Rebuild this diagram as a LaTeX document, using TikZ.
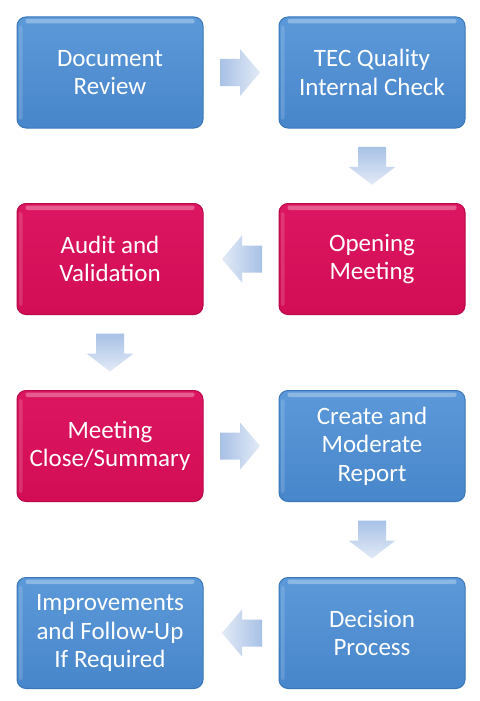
\documentclass[tikz,border=0pt]{standalone}
\usepackage{fontspec}
\setmainfont{Carlito}
\usetikzlibrary{calc}
\definecolor{bluetop}{HTML}{5B99D9}
\definecolor{bluebot}{HTML}{4886CB}
\definecolor{blueedge}{HTML}{3A76B8}
\definecolor{pinktop}{HTML}{DC1660}
\definecolor{pinkbot}{HTML}{D20C55}
\definecolor{pinkedge}{HTML}{B8084A}
\definecolor{arrdark}{HTML}{A8C1E6}
\definecolor{arrlight}{HTML}{E2EAF6}
\tikzset{
  pics/rarrow/.style={code={\shade[left color=arrdark, right color=arrlight]
    (-20,-13.5) -- (0,-13.5) -- (0,-23.5) -- (20,0) -- (0,23.5) -- (0,13.5) -- (-20,13.5) -- cycle;}},
  pics/larrow/.style={code={\shade[left color=arrlight, right color=arrdark]
    (20,-13.5) -- (0,-13.5) -- (0,-23.5) -- (-20,0) -- (0,23.5) -- (0,13.5) -- (20,13.5) -- cycle;}},
  pics/darrow/.style={code={\shade[top color=arrdark, bottom color=arrlight]
    (-14,-19) -- (14,-19) -- (14,1) -- (23.5,1) -- (0,19) -- (-23.5,1) -- (-14,1) -- cycle;}}
}
\begin{document}
\begin{tikzpicture}[x=1pt,y=-1pt,
  box/.style={rounded corners=9pt, minimum width=186pt, minimum height=111pt,
    align=center, text=white, inner sep=0pt,
    font=\fontsize{25}{28.5}\selectfont, line width=1pt},
  bluebox/.style={box, draw=blueedge, top color=bluetop, bottom color=bluebot},
  pinkbox/.style={box, draw=pinkedge, top color=pinktop, bottom color=pinkbot},
  shine/.style={white, opacity=0.3, rounded corners=2pt}]
\useasboundingbox (0,0) rectangle (479,701);
\fill[white] (0,0) rectangle (479,701);

\node[bluebox] (doc) at (110,72.5) {Document\\Review};
\node[bluebox] (tec) at (372,72.5) {TEC Quality\\Internal Check};
\node[pinkbox] (aud) at (110,259) {Audit and\\Validation};
\node[pinkbox] (opn) at (372,259) {Opening\\Meeting};
\node[pinkbox] (cls) at (110,446) {Meeting\\Close/Summary};
\node[bluebox] (rep) at (372,446) {Create and\\Moderate\\Report};
\node[bluebox] (imp) at (110,633) {Improvements\\and Follow-Up\\If Required};
\node[bluebox] (dec) at (372,633) {Decision\\Process};

\foreach \n in {doc,tec,aud,opn,cls,rep,imp,dec}{
  \fill[shine] ($(\n.north west)+(9,2.5)$) rectangle ($(\n.north east)+(-9,7)$);
  \fill[white, opacity=0.15, rounded corners=2pt] ($(\n.north west)+(2.5,9)$) rectangle ($(\n.south west)+(6,-9)$);
}

\coordinate (a1) at ($(doc.east)!0.5!(tec.west)+(-1,0)$);
\coordinate (a2) at ($(tec.south)!0.5!(opn.north)$);
\coordinate (a3) at ($(opn.west)!0.5!(aud.east)+(1,0)$);
\coordinate (a4) at ($(aud.south)!0.5!(cls.north)$);
\coordinate (a5) at ($(cls.east)!0.5!(rep.west)+(-1,0)$);
\coordinate (a6) at ($(rep.south)!0.5!(dec.north)$);
\coordinate (a7) at ($(dec.west)!0.5!(imp.east)+(1,0)$);
\pic at (a1) {rarrow};
\pic at (a2) {darrow};
\pic at (a3) {larrow};
\pic at (a4) {darrow};
\pic at (a5) {rarrow};
\pic at (a6) {darrow};
\pic at (a7) {larrow};
\end{tikzpicture}
\end{document}
